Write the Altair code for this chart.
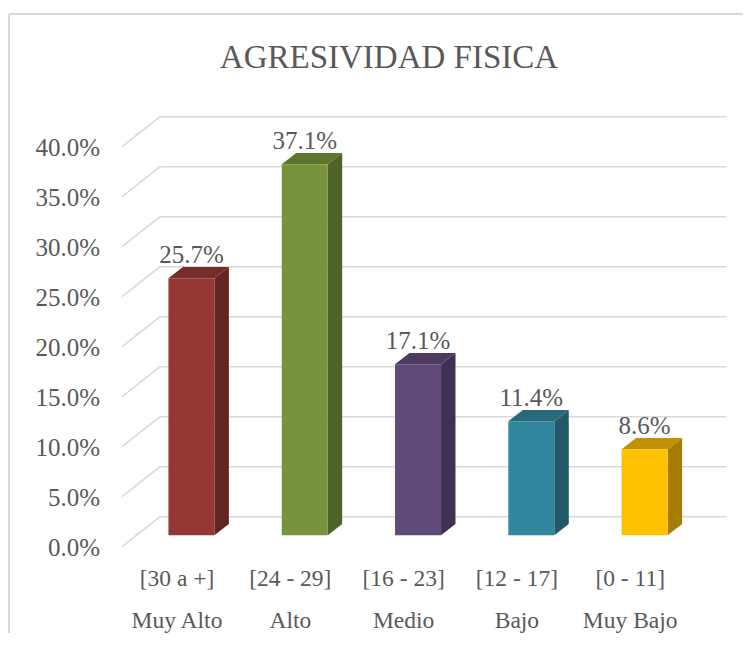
import altair as alt
import pandas as pd

# ---- data ----
rangos = ["[30 a +]", "[24 - 29]", "[16 - 23]", "[12 - 17]", "[0 - 11]"]
niveles = ["Muy Alto", "Alto", "Medio", "Bajo", "Muy Bajo"]
valores = [25.7, 37.1, 17.1, 11.4, 8.6]          # percent
ticks = [0, 5, 10, 15, 20, 25, 30, 35, 40]        # percent
titulo = "AGRESIVIDAD FISICA"

# ---- styles ----
color_frente = ["#953735", "#77933C", "#604A7B", "#31859C", "#FFC000"]
color_lado = ["#632523", "#4F6228", "#3F3151", "#215968", "#A67D00"]
color_tapa = ["#772C2A", "#5F752F", "#4D3B62", "#276A7C", "#C09100"]
GRID = "#D9D9D9"
TXT = "#595959"
FONT = "Liberation Serif"

# ---- geometry (oblique 3D projection) ----
W, H = 735, 625
DX, DY = 0.3354, 3.0      # full depth offset (category units, percent units)
F1, F2 = 0.38, 0.76       # bar front / back depth
HW = 0.203                # half bar width (category units)
GL, GR = -0.485, 4.85     # grid left (front plane) / right end (back wall)
X_DOMAIN = [-1.4916, 4.9956]
Y_DOMAIN = [-8.63, 53.87]

xs = alt.Scale(domain=X_DOMAIN, nice=False, zero=False)
ys = alt.Scale(domain=Y_DOMAIN, nice=False, zero=False)

# ---- tables built from the arrays ----
front_rows, side_rows, top_rows = [], [], []
for i, (r, v) in enumerate(zip(rangos, valores)):
    xl = i + F1 * DX - HW
    xr = i + F1 * DX + HW
    sdx = (F2 - F1) * DX
    front_rows.append(dict(cat=r, xl=xl, xr=xr, yb=F1 * DY, yt=v + F1 * DY,
                           xc=i + F1 * DX, ylab=v + F2 * DY, frac=v / 100,
                           col=color_frente[i]))
    side_rows.append(dict(cat=r, x=xr, y=F1 * DY, y2=v + F1 * DY, col=color_lado[i]))
    side_rows.append(dict(cat=r, x=xr + sdx, y=F2 * DY, y2=v + F2 * DY, col=color_lado[i]))
    top_rows.append(dict(cat=r, y=v + F1 * DY, x=xl, x2=xr, col=color_tapa[i]))
    top_rows.append(dict(cat=r, y=v + F2 * DY, x=xl + sdx, x2=xr + sdx, col=color_tapa[i]))

front = pd.DataFrame(front_rows)
side = pd.DataFrame(side_rows)
top = pd.DataFrame(top_rows)

cats = pd.DataFrame(dict(i=list(range(len(rangos))), rango=rangos, nivel=niveles))
grid = pd.DataFrame(dict(v=ticks, frac=[t / 100 for t in ticks]))
grid["vb"] = grid["v"] + DY
grid["xl"] = GL
grid["xb"] = GL + DX
grid["xr"] = GR

one = pd.DataFrame(dict(t=[titulo]))

# ---- layers ----
back_lines = alt.Chart(grid).mark_rule(color=GRID, strokeWidth=1.5).encode(
    x=alt.X("xb:Q", scale=xs, axis=None), x2="xr:Q",
    y=alt.Y("vb:Q", scale=ys, axis=None))
diag_lines = alt.Chart(grid).mark_rule(color=GRID, strokeWidth=1.5).encode(
    x=alt.X("xl:Q", scale=xs, axis=None), x2="xb:Q",
    y=alt.Y("v:Q", scale=ys, axis=None), y2="vb:Q")
tick_labels = alt.Chart(grid).mark_text(
    align="right", baseline="alphabetic", dx=-22, dy=9,
    font=FONT, fontSize=25, color=TXT).encode(
    x=alt.X("xl:Q", scale=xs, axis=None),
    y=alt.Y("v:Q", scale=ys, axis=None),
    text=alt.Text("frac:Q", format=".1%"))

sides = alt.Chart(side).mark_area(orient="vertical", strokeWidth=0).encode(
    x=alt.X("x:Q", scale=xs, axis=None),
    y=alt.Y("y:Q", scale=ys, axis=None, stack=None), y2="y2:Q",
    color=alt.Color("col:N", scale=None), detail="cat:N")
tops = alt.Chart(top).mark_area(orient="horizontal", strokeWidth=0).encode(
    y=alt.Y("y:Q", scale=ys, axis=None),
    x=alt.X("x:Q", scale=xs, axis=None, stack=None), x2="x2:Q",
    color=alt.Color("col:N", scale=None), detail="cat:N")
fronts = alt.Chart(front).mark_rect().encode(
    x=alt.X("xl:Q", scale=xs, axis=None), x2="xr:Q",
    y=alt.Y("yb:Q", scale=ys, axis=None), y2="yt:Q",
    color=alt.Color("col:N", scale=None))
value_labels = alt.Chart(front).mark_text(
    align="center", baseline="alphabetic", dy=-4,
    font=FONT, fontSize=25, color=TXT).encode(
    x=alt.X("xc:Q", scale=xs, axis=None),
    y=alt.Y("ylab:Q", scale=ys, axis=None),
    text=alt.Text("frac:Q", format=".1%"))

cat_base = alt.Chart(cats).transform_calculate(y0="0")
cat1 = cat_base.mark_text(align="center", baseline="alphabetic", dy=39,
                          font=FONT, fontSize=23.5, color=TXT).encode(
    x=alt.X("i:Q", scale=xs, axis=None),
    y=alt.Y("y0:Q", scale=ys, axis=None),
    text="rango:N")
cat2 = cat_base.mark_text(align="center", baseline="alphabetic", dy=81,
                          font=FONT, fontSize=23.5, color=TXT).encode(
    x=alt.X("i:Q", scale=xs, axis=None),
    y=alt.Y("y0:Q", scale=ys, axis=None),
    text="nivel:N")

title_mark = alt.Chart(one).mark_text(align="center", baseline="alphabetic",
                                      font=FONT, fontSize=33, color=TXT).encode(
    x=alt.value(381), y=alt.value(60), text="t:N")

frame_left = alt.Chart(one).mark_rule(color=GRID, strokeWidth=2).encode(
    x=alt.value(1), y=alt.value(6), y2=alt.value(H))
frame_top = alt.Chart(one).mark_rule(color=GRID, strokeWidth=2).encode(
    x=alt.value(1), x2=alt.value(W), y=alt.value(6))

chart = alt.layer(
    frame_left, frame_top, title_mark,
    back_lines, diag_lines, tick_labels,
    sides, tops, fronts, value_labels, cat1, cat2,
).properties(
    width=W, height=H,
    autosize=alt.AutoSizeParams(type="none"),
    padding=0,
    background="white",
).configure_view(stroke=None)

chart.save("out.html", embed_options={"renderer": "svg", "actions": False})
